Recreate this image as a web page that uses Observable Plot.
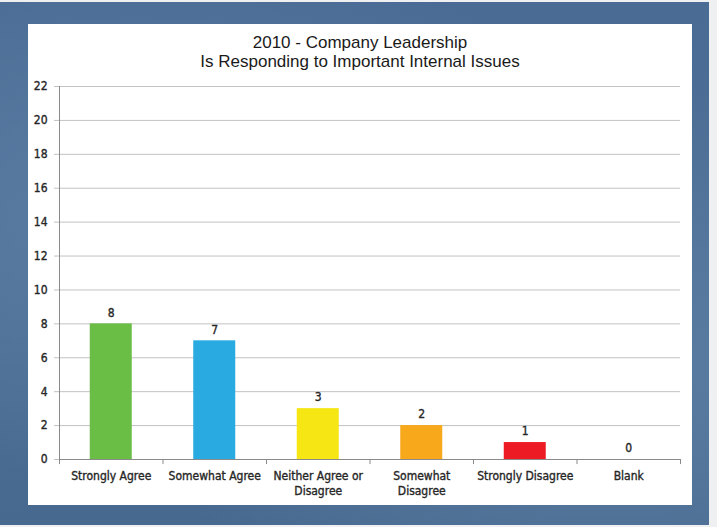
<!DOCTYPE html>
<html>
<head>
<meta charset="utf-8">
<script src="https://cdn.jsdelivr.net/npm/d3@7"></script>
<script src="https://cdn.jsdelivr.net/npm/@observablehq/plot@0.6"></script>
<style>
  html, body { margin:0; padding:0; background:#eef0f2; }
  #page { position:relative; width:717px; height:527px; overflow:hidden; }
  #blue { position:absolute; left:0; top:2px; width:709px; height:523px;
    background: radial-gradient(ellipse at 20% 40%, #5a7ca3 0%, rgba(90,124,163,0) 60%),
                radial-gradient(ellipse at 85% 70%, #5b7da2 0%, rgba(91,125,162,0) 55%),
                linear-gradient(180deg, #4a6c94 0%, #4d6f96 50%, #48698f 100%); }
  #panel { position:absolute; left:28px; top:24px; width:664px; height:481px; background:#fff; }
  #title { position:absolute; left:28px; top:33px; width:664px; text-align:center;
    font-family:"Liberation Sans", Arial, sans-serif; font-size:17px; line-height:19px; color:#1a1a1a; }
  #chart { position:absolute; left:0; top:0; }
</style>
</head>
<body>
<div id="page">
  <div id="blue"></div>
  <div id="panel"></div>
  <div id="title">2010 - Company Leadership<br>Is Responding to Important Internal Issues</div>
  <div id="chart"></div>
</div>
<script>
const categories = ["Strongly Agree", "Somewhat Agree", "Neither Agree or Disagree", "Somewhat Disagree", "Strongly Disagree", "Blank"];
const categoryLabels = ["Strongly Agree", "Somewhat Agree", "Neither Agree or\nDisagree", "Somewhat\nDisagree", "Strongly Disagree", "Blank"];
const values = [8, 7, 3, 2, 1, 0];
const barColors = ["#6abd45", "#29abe2", "#f5e614", "#f7a81b", "#ed1c24", "#999999"];
const yTicks = [0, 2, 4, 6, 8, 10, 12, 14, 16, 18, 20, 22];

const data = categories.map((c, i) => ({cat: c, label: categoryLabels[i], value: values[i], color: barColors[i]}));

const W = 717, H = 527, ML = 59, MR = 37, MT = 86, MB = 68;
const step = (W - ML - MR) / categories.length;
const barW = 42;
const inset = (step - barW) / 2;
const font = "'Liberation Sans Narrow', 'DejaVu Sans Condensed', Arial, sans-serif";
const ink = "#262626";

const chart = Plot.plot({
  width: W, height: H,
  marginLeft: ML, marginRight: MR, marginTop: MT, marginBottom: MB,
  style: {background: "transparent", fontFamily: font, fontSize: "12px", color: ink, overflow: "visible"},
  x: {domain: categories, padding: 0, round: false, axis: null},
  y: {domain: [0, 22], axis: null, label: null},
  marks: [
    Plot.gridY(yTicks, {stroke: "#c2c2c2", strokeOpacity: 1}),
    Plot.axisY(yTicks, {label: null, tickSize: 5, stroke: "#c2c2c2", tickFormat: () => ""}),
    Plot.text(yTicks, {y: d => d, text: d => String(d), frameAnchor: "left", textAnchor: "end", dx: -12, fill: ink, stroke: ink, strokeWidth: 0.35, fontSize: 12}),
    Plot.barY(data.filter(d => d.value > 0), {x: "cat", y: "value", fill: d => d.color, insetLeft: inset, insetRight: inset}),
    Plot.ruleX([categories[0]], {x: d => d, y1: 0, y2: 22, dx: -step / 2, stroke: "#8a8a8a"}),
    Plot.ruleY([0], {stroke: "#8a8a8a"}),
    Plot.ruleX(categories, {x: d => d, y1: 0, y2: -0.3, dx: -step / 2, stroke: "#8a8a8a"}),
    Plot.ruleX([categories[categories.length - 1]], {x: d => d, y1: 0, y2: -0.3, dx: step / 2, stroke: "#8a8a8a"}),
    Plot.text(data, {x: "cat", y: "value", text: d => String(d.value), dy: -11, fill: ink, stroke: ink, strokeWidth: 0.35, fontSize: 12}),
    Plot.text(data, {x: "cat", y: 0, text: "label", lineAnchor: "top", dy: 10, lineHeight: 1.25, fill: ink, stroke: ink, strokeWidth: 0.35, fontSize: 12})
  ]
});
document.getElementById("chart").appendChild(chart);
</script>
</body>
</html>
